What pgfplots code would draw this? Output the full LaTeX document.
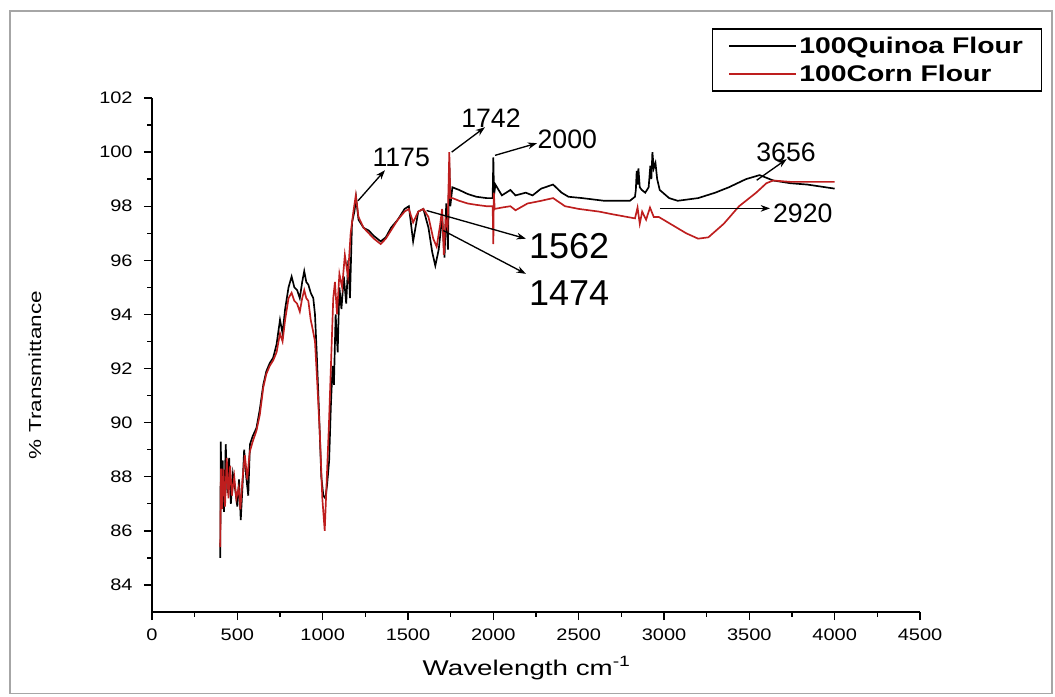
\documentclass[border=0pt]{standalone}
\usepackage{pgfplots}
\pgfplotsset{compat=1.18}
\usepackage{fontspec}
\setmainfont{Liberation Sans}
\usetikzlibrary{arrows.meta}
\definecolor{cornred}{RGB}{190,30,30}
\begin{document}
\begin{tikzpicture}[x=1pt,y=1pt]
\useasboundingbox (-114,-63) rectangle (677.25,459);
\begin{axis}[
 at={(0,0)}, anchor=south west,
 scale only axis, width=576pt, height=385.5pt,
 xmin=0, xmax=4500, ymin=83, ymax=102,
 axis x line*=bottom, axis y line*=left,
 xtick={0,500,...,4500}, ytick={84,86,...,102},
 minor x tick num=1, minor y tick num=1,
 tick align=outside,
 major tick length=6pt, minor tick length=3.5pt,
 every tick/.style={black, line width=1pt},
 axis line style={line width=1pt},
 tick label style={font=\fontsize{12.5}{14}\selectfont},
 xticklabel={\scalebox{1.2}[1]{\pgfmathprintnumber{\tick}}},
 yticklabel={\scalebox{1.2}[1]{\pgfmathprintnumber{\tick}}},
 yticklabel style={xshift=-5pt},
 xticklabel style={yshift=-3pt},
 /pgf/number format/assume math mode=true,
 /pgf/number format/1000 sep={},
 xlabel={\scalebox{1.3}[1]{Wavelength cm\textsuperscript{-1}}},
 xlabel style={at={(axis description cs:0.488,-0.109)}, anchor=center, font=\fontsize{16}{18}\selectfont},
 ylabel={\scalebox{1.3}[1]{\% Transmittance}},
 ylabel style={at={(axis description cs:-0.1523,0.461)}, anchor=center, font=\fontsize{13}{15}\selectfont},
 clip=false,
 legend style={at={(axis description cs:0.729,1.136)}, anchor=north west, draw=black, line width=1.2pt,
   font=\bfseries\fontsize{17}{19}\selectfont, row sep=3pt, inner ysep=4pt, inner xsep=12pt},
 legend cell align=left,
 legend image code/.code={\draw[#1, line width=1pt] (0pt,0pt) -- (50pt,0pt);},
]
\addplot[black, line width=1.25pt] coordinates {
(400,85.0)(403,89.3)(408,87.0)(414,88.6)(422,86.7)(432,89.2)(442,87.4)(452,88.7)(462,87.0)(474,88.1)(488,87.5)(500,86.9)(510,87.9)(520,86.4)(530,87.6)(540,89.0)(552,88.0)(564,87.3)(574,89.2)(590,89.5)(612,89.8)(632,90.5)(652,91.4)(670,91.9)(690,92.2)(710,92.4)(730,92.9)(750,93.8)(765,93.3)(780,94.2)(800,95.0)(818,95.4)(834,95.0)(850,94.9)(866,94.6)(880,95.2)(892,95.6)(904,95.2)(916,95.1)(930,94.8)(945,94.6)(955,94.0)(965,92.6)(978,90.5)(992,88.0)(1004,87.3)(1016,87.2)(1026,87.7)(1038,88.6)(1048,90.6)(1058,92.1)(1066,91.4)(1076,94.0)(1088,92.6)(1098,95.0)(1110,94.2)(1124,95.4)(1138,94.4)(1150,96.0)(1160,94.6)(1172,97.4)(1186,97.8)(1196,98.3)(1210,97.5)(1240,97.2)(1270,97.1)(1300,96.9)(1340,96.7)(1370,96.85)(1400,97.2)(1440,97.5)(1480,97.9)(1505,98.0)(1530,96.7)(1560,97.8)(1590,97.9)(1620,97.2)(1642,96.3)(1660,95.8)(1680,96.4)(1700,97.6)(1714,96.1)(1724,98.1)(1734,96.4)(1742,99.6)(1748,98.0)(1760,98.7)(1800,98.6)(1850,98.45)(1900,98.35)(1960,98.3)(1996,98.3)(2000,99.8)(2004,98.4)(2012,98.8)(2050,98.4)(2100,98.6)(2130,98.4)(2190,98.5)(2230,98.4)(2280,98.65)(2350,98.8)(2400,98.5)(2440,98.35)(2520,98.3)(2650,98.2)(2800,98.2)(2830,98.35)(2835,98.6)(2840,99.3)(2845,98.8)(2850,99.4)(2858,98.7)(2870,98.6)(2890,98.5)(2910,98.7)(2920,99.5)(2926,99.0)(2932,100.0)(2940,99.4)(2950,99.6)(2960,99.0)(2975,98.6)(3030,98.3)(3080,98.2)(3200,98.3)(3300,98.5)(3380,98.7)(3480,99.0)(3560,99.15)(3640,98.95)(3740,98.85)(3840,98.8)(4000,98.65)
};
\addlegendentry{\scalebox{1.25}[1]{100Quinoa Flour}}
\addplot[cornred, line width=1.25pt] coordinates {
(400,85.4)(404,88.3)(410,86.8)(418,88.3)(428,86.9)(438,88.7)(448,87.2)(458,88.4)(468,87.3)(482,88.0)(494,87.2)(508,87.6)(518,86.8)(530,87.9)(544,88.8)(558,87.9)(572,88.9)(590,89.3)(612,89.7)(632,90.3)(652,91.3)(670,91.8)(690,92.1)(710,92.3)(730,92.6)(750,93.3)(765,93.0)(780,93.8)(800,94.6)(818,94.8)(834,94.5)(850,94.4)(866,94.1)(880,94.6)(892,94.9)(904,94.6)(916,94.5)(930,93.8)(940,93.5)(955,93.0)(968,91.5)(984,89.5)(998,87.2)(1012,86.0)(1022,87.6)(1036,89.8)(1050,92.4)(1062,94.6)(1072,95.2)(1084,94.0)(1098,95.5)(1114,95.0)(1130,96.2)(1148,95.4)(1164,97.0)(1180,97.8)(1194,98.4)(1210,97.6)(1240,97.2)(1270,97.0)(1300,96.8)(1340,96.6)(1370,96.8)(1400,97.1)(1440,97.5)(1480,97.8)(1505,97.9)(1530,97.4)(1560,97.8)(1590,97.9)(1620,97.6)(1648,96.8)(1668,96.5)(1688,97.3)(1700,97.9)(1710,96.2)(1720,97.5)(1732,97.2)(1742,100.0)(1748,98.3)(1760,98.3)(1800,98.2)(1850,98.1)(1900,98.05)(1960,98.0)(1996,98.0)(2000,96.6)(2003,98.5)(2008,97.9)(2050,97.95)(2100,98.0)(2130,97.85)(2200,98.1)(2280,98.2)(2350,98.3)(2420,98.0)(2500,97.9)(2620,97.8)(2700,97.7)(2830,97.55)(2845,97.95)(2858,97.35)(2872,97.8)(2895,97.5)(2918,97.95)(2940,97.6)(2970,97.6)(3050,97.3)(3130,97.0)(3200,96.8)(3260,96.85)(3350,97.35)(3440,98.0)(3540,98.5)(3600,98.85)(3640,98.95)(3740,98.9)(3840,98.9)(4000,98.9)
};
\addlegendentry{\scalebox{1.25}[1]{100Corn Flour}}
% annotations
\draw[-{Stealth[length=7pt,width=5pt]}, line width=1pt] (axis cs:1207,98.2) -- (axis cs:1365,99.33);
\node[font=\fontsize{20}{22}\selectfont] at (axis cs:1460,99.8) {1175};
\draw[-{Stealth[length=7pt,width=5pt]}, line width=1pt] (axis cs:1756,100.0) -- (axis cs:1951,100.92);
\node[font=\fontsize{20}{22}\selectfont] at (axis cs:1986,101.26) {1742};
\draw[-{Stealth[length=7pt,width=5pt]}, line width=1pt] (axis cs:2010,99.88) -- (axis cs:2256,100.33);
\node[font=\fontsize{20}{22}\selectfont, anchor=west, inner sep=1pt] at (axis cs:2250,100.48) {2000};
\draw[-{Stealth[length=7pt,width=5pt]}, line width=1pt] (axis cs:1609,97.84) -- (axis cs:2191,96.8);
\node[font=\fontsize{27}{29}\selectfont, anchor=west, inner sep=1pt] at (axis cs:2200,96.54) {1562};
\draw[-{Stealth[length=7pt,width=5pt]}, line width=1pt] (axis cs:1707,97.1) -- (axis cs:2191,95.5);
\node[font=\fontsize{27}{29}\selectfont, anchor=west, inner sep=1pt] at (axis cs:2200,94.8) {1474};
\draw[-{Stealth[length=7pt,width=5pt]}, line width=1pt] (axis cs:3543,98.96) -- (axis cs:3719,99.74);
\node[font=\fontsize{20}{22}\selectfont] at (axis cs:3715,100.0) {3656};
\draw[-{Stealth[length=7pt,width=5pt]}, line width=1pt] (axis cs:2976,97.92) -- (axis cs:3621,97.92);
\node[font=\fontsize{20}{22}\selectfont, anchor=west, inner sep=1pt] at (axis cs:3630,97.73) {2920};
\end{axis}
\draw[gray!70, line width=0.8pt] (-106.5,-61) rectangle (675,450.75);
\end{tikzpicture}
\end{document}
